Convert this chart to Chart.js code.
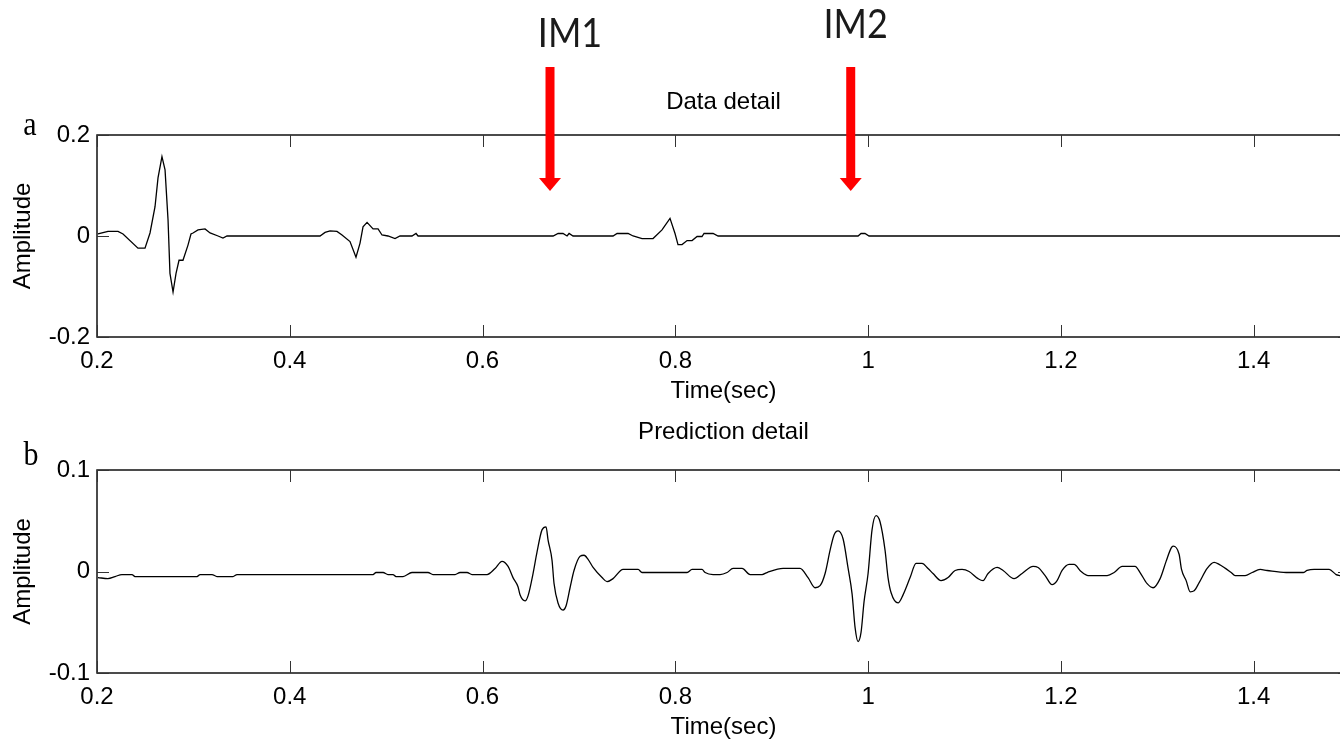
<!DOCTYPE html>
<html>
<head>
<meta charset="utf-8">
<script src="https://cdn.jsdelivr.net/npm/chart.js@4.4.1/dist/chart.umd.min.js"></script>
<style>
  html, body { margin: 0; padding: 0; background: #fff; }
  body { width: 1340px; height: 751px; overflow: hidden; position: relative; }
  .panel { position: absolute; left: 0; }
</style>
</head>
<body>
<div class="panel" style="top:0px"><canvas id="chartA" width="1360" height="420"></canvas></div>
<div class="panel" style="top:400px"><canvas id="chartB" width="1360" height="351"></canvas></div>
<script>
// time axis ticks (sec)
var xTicks = [0.2, 0.4, 0.6, 0.8, 1.0, 1.2, 1.4];

// a) Data detail
var topTime = [0.201,0.2114,0.2218,0.227,0.2425,0.2498,0.255,0.2602,0.2633,0.2674,0.2706,0.2737,0.2757,0.2789,0.282,0.2851,0.2892,0.2944,0.2975,0.2996,0.3048,0.3121,0.3173,0.3256,0.3307,0.3349,0.4314,0.4366,0.4418,0.449,0.4542,0.4625,0.4687,0.4729,0.476,0.4802,0.4864,0.4916,0.4957,0.5019,0.5092,0.5144,0.5268,0.531,0.5331,0.6732,0.6784,0.6835,0.6877,0.6898,0.6939,0.7354,0.7396,0.751,0.7562,0.7655,0.7769,0.7862,0.7945,0.7997,0.8028,0.807,0.8122,0.8174,0.8226,0.8277,0.8298,0.8392,0.8444,0.9896,0.9927,0.9968,1.001,1.49];
var topAmp = [0.004,0.009,0.009,0.004,-0.024,-0.024,0.006,0.058,0.115,0.157,0.131,0.032,-0.074,-0.111,-0.074,-0.048,-0.048,-0.018,0.004,0.006,0.012,0.014,0.006,0,-0.004,0,0,0.007,0.01,0.009,0.002,-0.011,-0.042,-0.014,0.018,0.027,0.014,0.014,0.002,0,-0.005,0,0,0.005,0,0,0.005,0.005,0,0.005,0,0,0.005,0.005,0,-0.005,-0.005,0.012,0.035,0.005,-0.017,-0.017,-0.009,-0.009,-0.001,-0.001,0.005,0.005,0,0,0.005,0.005,0,0];
var topYTicks = [-0.2, 0, 0.2];

// b) Prediction detail
var bottomTime = [0.201,0.2114,0.2187,0.2259,0.2363,0.2394,0.3038,0.3069,0.3193,0.3245,0.3411,0.3453,0.4864,0.4895,0.4968,0.5019,0.5071,0.5102,0.5175,0.5268,0.5434,0.5486,0.5715,0.5767,0.5839,0.5891,0.6047,0.613,0.6202,0.6265,0.6316,0.6368,0.6389,0.6441,0.6472,0.6524,0.6565,0.6617,0.6659,0.668,0.6721,0.6742,0.6783,0.6835,0.6866,0.6908,0.6949,0.7012,0.7053,0.7095,0.7147,0.724,0.7292,0.7354,0.7458,0.7614,0.7655,0.8122,0.8174,0.8277,0.8309,0.8392,0.8464,0.8537,0.8599,0.8693,0.8776,0.89,0.8952,0.9118,0.9294,0.9377,0.945,0.9502,0.9554,0.9606,0.9647,0.9689,0.9741,0.9793,0.9834,0.9865,0.9896,0.9927,0.9958,1.0,1.0041,1.0083,1.0124,1.0176,1.0207,1.0239,1.0311,1.0363,1.0436,1.0498,1.056,1.0622,1.0674,1.0757,1.083,1.0903,1.0975,1.1048,1.1141,1.1193,1.1245,1.1339,1.1401,1.1515,1.1598,1.1712,1.1764,1.1837,1.1909,1.1961,1.2013,1.2086,1.2137,1.221,1.2283,1.248,1.2553,1.2636,1.277,1.2822,1.2895,1.2957,1.303,1.3092,1.3144,1.3165,1.3227,1.3252,1.33,1.3342,1.3383,1.3435,1.3518,1.359,1.3642,1.3767,1.3808,1.3912,1.3985,1.4068,1.414,1.4337,1.4514,1.4555,1.4628,1.4784,1.4856,1.4898];
var bottomAmp = [-0.006,-0.007,-0.005,-0.003,-0.003,-0.005,-0.005,-0.003,-0.003,-0.005,-0.005,-0.003,-0.003,-0.001,-0.001,-0.003,-0.003,-0.005,-0.005,-0.001,-0.001,-0.003,-0.003,-0.001,-0.001,-0.003,-0.003,0.003,0.010,0.005,-0.006,-0.015,-0.023,-0.029,-0.024,-0.002,0.019,0.041,0.044,0.031,0.011,-0.012,-0.031,-0.038,-0.034,-0.016,0.001,0.015,0.016,0.012,0.004,-0.006,-0.010,-0.007,0.002,0.002,-0.001,-0.001,0.002,0.002,-0.001,-0.003,-0.003,-0.001,0.003,0.003,-0.003,-0.003,-0.001,0.003,0.003,-0.006,-0.016,-0.014,-0.002,0.021,0.036,0.040,0.032,0.003,-0.022,-0.055,-0.069,-0.060,-0.030,-0.002,0.041,0.055,0.049,0.021,-0.006,-0.021,-0.031,-0.023,-0.006,0.008,0.008,0.003,-0.002,-0.009,-0.006,0.001,0.002,0.000,-0.007,-0.009,-0.002,0.004,0.001,-0.007,-0.002,0.005,0.004,-0.004,-0.013,-0.009,0.001,0.007,0.007,0.000,-0.004,-0.004,-0.001,0.005,0.005,-0.001,-0.012,-0.016,-0.007,0.010,0.023,0.025,0.017,0.002,-0.009,-0.020,-0.019,-0.011,0.003,0.009,0.007,-0.001,-0.004,-0.004,-0.001,0.002,0.001,-0.001,-0.001,0.001,0.002,0.002,-0.003,-0.004];
var bottomYTicks = [-0.1, 0, 0.1];

// arrows over the top panel
var imTimes = [0.670, 0.982];
var imNames = ['IM1', 'IM2'];

Chart.defaults.font.family = "'Liberation Sans', Arial, sans-serif";
Chart.defaults.font.size = 24;
Chart.defaults.color = '#000';

var boxPlugin = {
  id: 'box',
  afterDraw: function(chart) {
    var ctx = chart.ctx, a = chart.chartArea, x = chart.scales.x, y = chart.scales.y;
    ctx.save();
    ctx.strokeStyle = '#111';
    ctx.lineWidth = 1.5;
    ctx.strokeRect(a.left, a.top, a.right - a.left, a.bottom - a.top);
    ctx.lineWidth = 1;
    ctx.strokeStyle = '#333';
    ctx.beginPath();
    x.ticks.forEach(function(t) {
      var px = Math.round(x.getPixelForValue(t.value)) + 0.5;
      ctx.moveTo(px, a.bottom); ctx.lineTo(px, a.bottom - 12);
      ctx.moveTo(px, a.top); ctx.lineTo(px, a.top + 12);
    });
    y.ticks.forEach(function(t) {
      var py = Math.round(y.getPixelForValue(t.value)) + 0.5;
      ctx.moveTo(a.left, py); ctx.lineTo(a.left + 12, py);
      ctx.moveTo(a.right, py); ctx.lineTo(a.right - 12, py);
    });
    ctx.stroke();
    ctx.restore();
  }
};

function letterPlugin(letter, lx, ly) {
  return {
    id: 'letter',
    afterDraw: function(chart) {
      var ctx = chart.ctx;
      ctx.save();
      ctx.fillStyle = '#000';
      ctx.font = "30px 'Liberation Serif', 'Times New Roman', serif";
      ctx.textAlign = 'center';
      ctx.textBaseline = 'alphabetic';
      ctx.translate(lx, ly);
      ctx.scale(1, 1.12);
      ctx.fillText(letter, 0, 0);
      ctx.restore();
    }
  };
}

var arrowPlugin = {
  id: 'arrows',
  afterDraw: function(chart) {
    var ctx = chart.ctx, x = chart.scales.x;
    var labelShift = [20, 5];
    var labelBase = [47, 38];
    ctx.save();
    imTimes.forEach(function(t, i) {
      var px = x.getPixelForValue(t);
      ctx.fillStyle = '#ff0000';
      ctx.fillRect(px - 4.5, 67, 9, 112);
      ctx.beginPath();
      ctx.moveTo(px - 11, 178);
      ctx.lineTo(px + 11, 178);
      ctx.lineTo(px, 191);
      ctx.closePath();
      ctx.fill();
      ctx.save();
      ctx.fillStyle = '#1a1a1a';
      ctx.font = "36px Lato, 'Open Sans', sans-serif";
      ctx.textAlign = 'center';
      ctx.textBaseline = 'alphabetic';
      ctx.translate(px + labelShift[i], labelBase[i]);
      ctx.scale(1, 1.15);
      ctx.fillText(imNames[i], 0, 0);
      ctx.restore();
    });
    ctx.restore();
  }
};

function makePanel(id, times, amps, yTicks, yLim, titleText, lay, extraPlugins, smooth) {
  var pts = times.map(function(t, i) { return {x: t, y: amps[i]}; });
  return new Chart(document.getElementById(id), {
    type: 'line',
    data: {
      datasets: [{
        data: pts,
        borderColor: '#000',
        borderWidth: 1.3,
        pointRadius: 0,
        fill: false,
        tension: 0,
        cubicInterpolationMode: smooth ? 'monotone' : 'default'
      }]
    },
    options: {
      responsive: false,
      animation: false,
      devicePixelRatio: 1,
      layout: { padding: { left: 0, right: 10, top: 0, bottom: 0 } },
      plugins: {
        legend: { display: false },
        tooltip: { enabled: false },
        title: {
          display: true,
          fullSize: false,
          text: titleText,
          font: { size: 24, weight: 'normal' },
          color: '#000',
          padding: { top: lay.titleTop, bottom: lay.titleBottom }
        }
      },
      scales: {
        x: {
          type: 'linear',
          min: 0.2,
          max: 1.5,
          grid: { display: false, drawTicks: false },
          border: { display: false },
          afterBuildTicks: function(s) { s.ticks = xTicks.map(function(v) { return {value: v}; }); },
          afterFit: function(s) { s.height = lay.xHeight; },
          ticks: {
            padding: 10,
            maxRotation: 0,
            autoSkip: false,
            callback: function(v) { return String(Math.round(v * 10) / 10); }
          },
          title: { display: true, text: 'Time(sec)', padding: { top: 0, bottom: lay.xTitleBottom } }
        },
        y: {
          min: yLim[0],
          max: yLim[1],
          grid: { display: false, drawTicks: false },
          border: { display: false },
          afterBuildTicks: function(s) { s.ticks = yTicks.map(function(v) { return {value: v}; }); },
          afterFit: function(s) { s.width = 97; },
          ticks: {
            padding: 7,
            callback: function(v) { return String(Math.round(v * 10) / 10); }
          },
          title: { display: true, text: 'Amplitude', padding: { top: 9, bottom: 0 } }
        }
      }
    },
    plugins: [boxPlugin].concat(extraPlugins)
  });
}

var chartA = makePanel('chartA', topTime, topAmp, topYTicks, [-0.2, 0.2], 'Data detail',
  { titleTop: 88, titleBottom: 18.2, xHeight: 83, xTitleBottom: 14.6 },
  [arrowPlugin, letterPlugin('a', 30, 135)], false);

var chartB = makePanel('chartB', bottomTime, bottomAmp, bottomYTicks, [-0.1, 0.1], 'Prediction detail',
  { titleTop: 17.6, titleBottom: 23.6, xHeight: 78, xTitleBottom: 9.6 },
  [letterPlugin('b', 31, 65)], true);
</script>
</body>
</html>
